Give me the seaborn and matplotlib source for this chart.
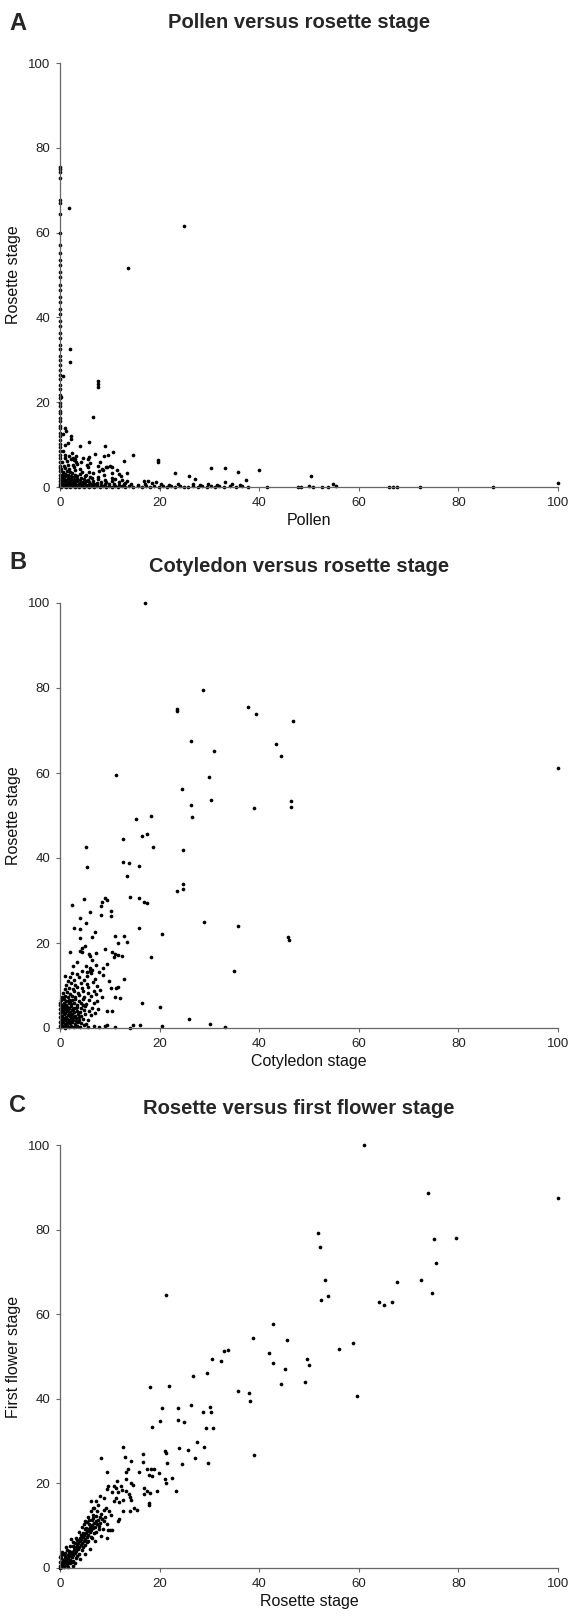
import matplotlib
matplotlib.use("Agg")
import matplotlib.pyplot as plt
import seaborn as sns
import pandas as pd

# ---------------- data ----------------
titles = ["Pollen versus rosette stage", "Cotyledon versus rosette stage", "Rosette versus first flower stage"]
panel_letters = ["A", "B", "C"]
x_labels = ["Pollen", "Cotyledon stage", "Rosette stage"]
y_labels = ["Rosette stage", "Rosette stage", "First flower stage"]
ticks = [0, 20, 40, 60, 80, 100]

# Panel A: points on the y axis (pollen = 0)
a_axis_y = [0.3, 0.8, 1.5, 2.2, 2.8, 3.7, 4.4, 5.0, 5.9, 6.9, 7.6, 8.5, 9.5, 10.2, 11.1, 12.1, 12.8,
            13.9, 14.5, 15.6, 16.3, 17.4, 18.0, 19.1, 19.8, 20.9, 21.8, 23.1, 24.1, 25.4, 26.4, 27.7,
            28.7, 30.0, 30.9, 32.5, 33.6, 35.2, 36.3, 38.0, 39.1, 40.7, 41.9, 43.6, 44.9, 46.4, 47.7,
            49.5, 50.8, 52.4, 53.5, 55.2, 57.1, 60.0, 64.5, 67.0, 67.8, 72.8, 74.4, 75.1, 75.5]
a_points = [
    (1.9, 65.7), (24.9, 61.6), (13.7, 51.7), (2.1, 32.5), (2.1, 29.4), (0.6, 26.1), (7.6, 24.9),
    (7.6, 24.2), (7.6, 23.6), (6.6, 16.6), (0.3, 21.2), (1.0, 14.0), (1.3, 13.2), (0.6, 12.6),
    (2.3, 12.0), (2.3, 11.4), (5.9, 10.7), (4.1, 9.7), (9.1, 9.6), (1.0, 10.0), (1.6, 10.4),
    (7.0, 7.8), (10.7, 8.2), (9.7, 7.6), (14.7, 7.5), (12.8, 6.2), (19.7, 6.3), (19.7, 5.9),
    (30.4, 4.4), (33.2, 4.4), (35.8, 3.5), (39.9, 4.1), (23.1, 3.3), (25.9, 2.6), (27.2, 2.0),
    (50.4, 2.6), (100, 1.0), (37.3, 1.6), (33.2, 1.2), (54.8, 0.8), (41.6, 0.1), (47.7, 0.1),
    (48.4, 0.1), (50.1, 0.2), (50.9, 0.1), (52.6, 0.1), (53.9, 0.1), (55.5, 0.2), (66.0, 0.1),
    (66.9, 0.1), (67.7, 0.1), (72.3, 0.1), (87.0, 0.1),
    (0.3, 0.1), (0.8, 0.2), (1.2, 0.1), (1.7, 0.3), (2.1, 0.1), (2.6, 0.2), (3.0, 0.1), (3.5, 0.3),
    (3.9, 0.1), (4.4, 0.2), (4.9, 0.1), (5.4, 0.3), (5.9, 0.1), (6.4, 0.2), (6.9, 0.1), (7.5, 0.3),
    (8.0, 0.1), (8.6, 0.2), (9.2, 0.1), (9.8, 0.3), (10.4, 0.1), (11.0, 0.2), (11.7, 0.1),
    (12.4, 0.3), (13.1, 0.1), (13.9, 0.2), (14.7, 0.1), (15.6, 0.2), (16.4, 0.1), (17.2, 0.3),
    (18.0, 0.1), (18.9, 0.2), (19.8, 0.1), (20.6, 0.2), (21.5, 0.1), (22.3, 0.3), (23.1, 0.1),
    (24.0, 0.2), (24.9, 0.1), (25.8, 0.1), (26.8, 0.2), (27.7, 0.1), (28.6, 0.3), (29.5, 0.1),
    (30.3, 0.2), (31.2, 0.1), (32.0, 0.2), (33.0, 0.1), (34.2, 0.2), (35.4, 0.1), (36.6, 0.2),
    (37.8, 0.1),
    (0.5, 0.6), (1.0, 0.7), (1.5, 0.5), (2.0, 0.8), (2.5, 0.6), (3.0, 0.7), (3.4, 0.5), (3.9, 0.8),
    (4.4, 0.6), (5.0, 0.7), (5.6, 0.5), (6.2, 0.8), (6.8, 0.6), (7.5, 0.7), (8.2, 0.5), (9.0, 0.8),
    (9.9, 0.6), (10.8, 0.7), (11.8, 0.5), (12.9, 0.8), (14.2, 0.6), (15.6, 0.5), (17.0, 0.7),
    (18.4, 1.0), (20.2, 0.6), (21.8, 0.5), (23.6, 0.7), (26.8, 0.6), (28.2, 0.5), (29.7, 0.6),
    (31.6, 0.5), (34.6, 0.6), (36.2, 0.4),
    (0.4, 1.1), (0.9, 1.3), (1.4, 1.0), (1.9, 1.2), (2.4, 1.4), (2.9, 1.1), (3.4, 1.3), (4.0, 1.0),
    (4.6, 1.2), (5.2, 1.4), (5.9, 1.1), (6.6, 1.3), (7.4, 1.0), (8.3, 1.2), (9.3, 1.1), (10.5, 1.3),
    (11.8, 1.2), (13.0, 1.0), (16.8, 1.4), (17.6, 1.5), (19.2, 1.1),
    (0.3, 1.7), (0.8, 1.9), (1.3, 1.6), (1.8, 2.0), (2.3, 1.8), (2.9, 1.6), (3.5, 2.0), (4.1, 1.7),
    (4.8, 1.9), (5.6, 1.7), (6.5, 2.1), (7.7, 1.8), (9.0, 1.6), (11.0, 1.9), (12.4, 1.7), (13.5, 1.5),
    (0.5, 2.3), (1.1, 2.5), (1.6, 2.2), (2.2, 2.6), (2.8, 2.3), (3.5, 2.5), (4.3, 2.2), (5.1, 2.6),
    (6.1, 2.4), (7.6, 2.3), (10.4, 2.2), (12.2, 2.5),
    (0.4, 2.9), (1.0, 3.1), (1.7, 2.8), (2.4, 3.2), (3.1, 2.9), (4.0, 3.1), (5.3, 2.8), (6.7, 3.2),
    (8.9, 2.9), (11.9, 3.1),
    (0.6, 3.6), (1.4, 3.8), (2.1, 3.5), (3.0, 3.9), (4.4, 3.6), (5.9, 3.5), (7.8, 3.7), (10.4, 3.4),
    (13.4, 3.2),
    (0.3, 4.3), (1.0, 4.5), (1.9, 4.2), (2.8, 4.6), (4.0, 4.3), (5.6, 4.7), (8.4, 4.3), (9.4, 4.6),
    (11.4, 4.0),
    (0.8, 5.0), (1.7, 5.3), (2.6, 5.1), (3.5, 5.5), (5.4, 5.2), (7.6, 5.0), (10.0, 5.0), (10.5, 4.6),
    (0.5, 5.8), (1.5, 6.1), (2.3, 6.6), (2.9, 6.3), (3.3, 5.9), (4.2, 6.0), (5.6, 6.5), (6.0, 5.7),
    (1.1, 6.9), (1.9, 7.2), (2.6, 6.9), (3.0, 6.6), (4.6, 6.8), (1.0, 7.6), (2.4, 8.0), (0.7, 8.6),
    (3.3, 7.4), (5.8, 7.0), (8.8, 7.2), (9.2, 4.8), (8.0, 6.0), (8.6, 4.0),
]

# Panel B: cotyledon (x) vs rosette (y)
b_points = [
    (17.0, 100), (28.7, 79.6), (23.4, 75.0), (23.4, 74.7), (37.7, 75.5), (39.4, 73.9), (46.7, 72.3),
    (26.3, 67.6), (31.0, 65.2), (43.4, 66.8), (44.3, 63.9), (11.2, 59.5), (29.9, 59.1), (100, 61.1),
    (24.4, 56.2), (30.3, 53.7), (26.3, 52.5), (46.3, 53.3), (46.3, 52.1), (39.0, 51.8), (26.5, 49.6),
    (18.2, 49.8), (15.2, 49.1), (12.6, 44.4), (16.5, 45.1), (17.4, 45.6), (18.7, 42.6), (5.2, 42.7),
    (24.6, 41.9), (5.5, 38.0), (12.7, 39.1), (13.9, 38.8), (15.9, 38.2), (13.5, 35.8), (24.7, 33.8),
    (24.7, 32.8), (23.4, 32.3), (14.0, 30.8), (15.8, 30.6), (16.8, 29.6), (17.5, 29.4), (9.0, 30.7),
    (9.5, 30.2), (4.9, 30.3), (2.5, 28.9), (8.4, 29.7), (8.2, 28.6), (10.3, 27.5), (10.3, 26.4),
    (8.3, 26.7), (6.1, 27.4), (4.0, 25.8), (5.2, 24.6), (2.8, 23.5), (4.1, 23.4), (7.1, 22.5),
    (15.8, 23.6), (28.9, 25.0), (35.8, 23.9), (20.4, 22.1), (45.7, 21.4), (45.9, 20.7), (11.1, 21.6),
    (12.9, 21.6), (4.1, 21.2), (6.4, 21.3), (13.5, 20.3), (11.7, 20.0), (5.0, 19.4), (4.5, 18.9),
    (9.0, 18.5), (2.1, 17.8), (4.0, 18.1), (4.4, 17.9), (5.8, 17.4), (7.3, 17.7), (10.4, 17.9),
    (11.0, 17.4), (11.7, 17.2), (12.4, 17.0), (10.9, 16.8), (18.3, 16.7), (6.1, 16.9), (6.5, 15.9),
    (3.4, 15.6), (2.7, 14.7), (9.5, 15.0), (8.6, 14.2), (6.0, 14.1), (6.0, 13.5), (6.5, 13.7),
    (5.5, 13.2), (6.3, 13.0), (5.4, 12.2), (12.9, 11.5), (35.0, 13.5), (1.1, 12.3), (9.9, 11.0),
    (10.3, 9.5), (11.3, 9.5), (11.7, 9.6), (16.4, 6.0), (11.0, 7.2), (12.1, 7.0), (9.4, 4.0),
    (10.4, 4.1), (20.0, 5.0), (26.0, 2.2), (30.2, 0.9), (33.1, 0.2), (20.5, 0.4), (16.0, 0.7),
    (14.7, 0.7), (14.0, 0.1), (11.0, 0.2), (9.0, 0.5), (9.4, 0.8), (7.8, 0.3), (6.8, 0.5), (5.7, 0.2),
    (0.2, 0.2), (0.6, 0.5), (1.0, 0.1), (1.4, 0.6), (1.8, 0.3), (2.3, 0.5), (2.8, 0.2), (3.4, 0.4),
    (4.1, 0.3), (4.8, 0.6),
    (0.3, 1.0), (0.7, 1.4), (1.1, 0.9), (1.5, 1.3), (2.0, 1.1), (2.5, 1.5), (3.0, 1.0), (3.6, 1.4),
    (4.3, 1.2), (5.2, 1.0),
    (0.2, 1.9), (0.6, 2.3), (1.0, 1.8), (1.4, 2.2), (1.8, 1.9), (2.2, 2.4), (2.7, 2.0), (3.2, 2.3),
    (3.8, 1.9), (4.6, 2.2), (5.6, 2.0),
    (0.4, 2.8), (0.8, 3.2), (1.2, 2.7), (1.6, 3.1), (2.0, 2.9), (2.5, 3.3), (3.0, 2.8), (3.6, 3.2),
    (4.3, 2.9), (5.0, 3.3), (6.2, 3.0),
    (0.3, 3.7), (0.7, 4.1), (1.1, 3.6), (1.5, 4.0), (2.0, 3.8), (2.4, 4.2), (2.9, 3.7), (3.5, 4.1),
    (4.1, 3.8), (4.9, 4.2), (5.8, 3.9), (7.0, 3.6),
    (0.2, 4.6), (0.6, 5.0), (1.0, 4.5), (1.4, 4.9), (1.9, 4.7), (2.3, 5.1), (2.9, 4.6), (3.5, 5.0),
    (4.2, 4.7), (5.1, 5.1), (6.4, 4.8), (7.6, 4.5),
    (0.4, 5.5), (0.9, 5.9), (1.3, 5.4), (1.8, 5.8), (2.3, 5.6), (2.9, 6.0), (3.5, 5.5), (4.3, 5.9),
    (5.3, 5.6), (6.8, 5.8),
    (0.3, 6.5), (0.8, 6.8), (1.3, 6.3), (1.8, 6.7), (2.4, 6.5), (3.1, 6.9), (3.8, 6.4), (4.7, 6.8),
    (5.9, 6.6), (7.4, 6.3), (8.4, 7.3),
    (0.5, 7.3), (1.1, 7.6), (1.7, 7.2), (2.4, 7.6), (3.1, 7.4), (3.9, 7.8), (4.8, 7.3), (6.2, 7.6),
    (7.2, 8.0),
    (0.7, 8.2), (1.4, 8.5), (2.1, 8.1), (2.9, 8.6), (3.7, 8.3), (4.6, 8.7), (5.6, 8.2), (6.8, 8.6),
    (1.0, 9.1), (1.8, 9.5), (2.6, 9.2), (3.5, 9.6), (4.5, 9.3), (5.7, 9.7), (7.5, 9.8), (8.0, 9.0),
    (1.3, 10.2), (2.2, 10.5), (3.1, 10.1), (4.2, 10.6), (5.5, 10.3), (1.6, 11.1), (2.9, 11.4),
    (3.9, 12.0), (4.8, 11.3), (2.0, 11.9), (3.4, 12.7), (4.4, 13.4), (2.4, 13.0), (7.0, 11.6),
    (6.7, 10.8), (8.6, 12.5), (7.8, 13.1), (7.2, 14.8), (5.2, 14.6),
    (0.0, 0.5), (0.0, 1.5), (0.0, 2.5), (0.0, 3.5), (0.0, 4.5), (0.0, 5.5), (0.1, 6.0),
    (0.5, 1.6), (1.2, 2.4), (0.9, 3.5), (1.7, 4.4), (0.4, 4.2), (2.6, 4.4), (1.3, 0.4), (2.1, 1.6),
    (3.3, 1.7), (2.6, 2.6), (1.9, 3.4), (3.9, 2.5), (3.2, 4.6), (4.6, 5.4), (2.0, 6.2), (1.1, 5.2),
]

# Panel C: rosette (x) vs first flower (y)
c_points = [
    (61.0, 100), (73.9, 88.7), (100, 87.4), (51.8, 79.3), (52.2, 75.8), (75.1, 77.8), (79.6, 78.1),
    (75.5, 72.2), (53.3, 68.0), (67.6, 67.7), (72.4, 68.0), (74.6, 65.1), (21.3, 64.6), (52.4, 63.3),
    (53.9, 64.3), (64.0, 62.8), (65.1, 62.1), (66.7, 62.8), (42.8, 57.6), (38.7, 54.4), (45.5, 53.9),
    (58.9, 53.2), (56.1, 51.7), (33.8, 51.6), (32.9, 51.2), (42.0, 50.9), (30.6, 49.4), (32.3, 49.0),
    (49.6, 49.4), (49.9, 48.0), (42.8, 48.5), (45.2, 47.0), (29.6, 46.0), (26.7, 45.5), (44.3, 43.5),
    (49.1, 44.0), (18.0, 42.8), (21.9, 43.1), (35.8, 41.8), (37.9, 41.4), (38.2, 39.4), (59.6, 40.6),
    (20.5, 37.8), (23.6, 37.8), (26.3, 38.6), (30.2, 38.1), (30.3, 36.8), (28.7, 36.8), (20.1, 34.7),
    (23.7, 35.0), (24.9, 34.6), (18.5, 33.4), (29.4, 33.2), (30.7, 33.2), (27.5, 29.8), (39.0, 26.6),
    (12.6, 28.7), (28.9, 28.6), (21.1, 27.7), (21.3, 27.3), (23.8, 28.3), (25.7, 28.0), (13.0, 26.3),
    (8.2, 26.1), (16.7, 26.9), (14.2, 25.4), (16.7, 25.0), (27.2, 25.9), (21.5, 24.9), (24.4, 24.7),
    (29.8, 24.9), (13.6, 23.5), (17.5, 23.5), (18.3, 23.5), (18.8, 23.4), (9.4, 22.8), (13.3, 22.6),
    (15.8, 22.8), (19.8, 22.4), (17.9, 22.0), (18.4, 21.7), (21.1, 21.0), (22.4, 21.2), (21.2, 20.1),
    (11.4, 20.5), (14.3, 20.2), (14.6, 19.6), (13.3, 21.0), (10.8, 19.4), (9.6, 19.4), (9.5, 18.6),
    (11.2, 18.9), (12.3, 19.3), (12.5, 18.5), (16.8, 18.9), (17.4, 18.2), (18.1, 17.8), (16.8, 17.5),
    (19.5, 18.3), (23.2, 18.1), (8.1, 17.0), (8.8, 16.5), (10.4, 17.9), (11.7, 18.0), (13.2, 18.1),
    (13.8, 17.5), (14.1, 16.7), (14.2, 16.1), (12.6, 16.1), (11.9, 15.7), (10.9, 15.8), (11.3, 16.5),
    (7.2, 15.9), (6.3, 15.8), (6.6, 14.2), (17.8, 15.4), (17.8, 14.8), (14.8, 14.3), (15.4, 13.6),
    (14.0, 13.5), (12.7, 13.4), (9.2, 14.2), (9.9, 13.4), (10.2, 12.5), (11.8, 11.7), (11.6, 11.0),
    (9.6, 9.0), (10.1, 8.9), (10.5, 9.1), (9.5, 7.2),
    (0.1, 0.1), (0.3, 0.5), (0.5, 0.2), (0.7, 0.9), (0.9, 0.5), (1.0, 1.4), (1.2, 0.8), (1.3, 1.9),
    (1.5, 1.2), (1.6, 2.4), (1.8, 1.6), (1.9, 2.9), (2.1, 2.0), (2.2, 3.3), (2.4, 2.6), (2.5, 3.8),
    (2.7, 3.0), (2.8, 4.3), (3.0, 3.5), (3.1, 4.8), (3.3, 4.0), (3.4, 5.3), (3.6, 4.5), (3.7, 5.8),
    (3.9, 5.0), (4.0, 6.3), (4.2, 5.4), (4.3, 6.8), (4.5, 5.9), (4.6, 7.3), (4.8, 6.4), (4.9, 7.8),
    (5.1, 6.9), (5.2, 8.3), (5.4, 7.4), (5.5, 8.7), (5.7, 7.9), (5.8, 9.2), (6.0, 8.4), (6.1, 9.7),
    (6.3, 8.9), (6.4, 10.2), (6.6, 9.4), (6.8, 10.6), (7.0, 9.8), (7.2, 11.0), (7.4, 10.3),
    (7.7, 11.3), (8.0, 10.7), (8.4, 11.6), (8.8, 11.0),
    (0.2, 0.8), (0.4, 1.3), (0.6, 1.8), (0.8, 0.3), (1.1, 2.3), (1.4, 0.6), (1.7, 3.0), (2.0, 1.1),
    (2.3, 3.9), (2.6, 1.7), (2.9, 4.9), (3.2, 2.4), (3.5, 5.6), (3.8, 3.2), (4.1, 7.0), (4.4, 4.2),
    (4.7, 8.2), (5.0, 5.4), (5.3, 9.4), (5.6, 6.4), (5.9, 10.5), (6.2, 7.3), (6.5, 11.3), (6.9, 8.3),
    (7.3, 12.2), (7.8, 9.2), (8.3, 12.8), (0.3, 2.4), (0.6, 3.2), (1.0, 3.6), (1.5, 4.2), (2.0, 5.2),
    (2.6, 6.1), (3.2, 7.2), (3.8, 8.4), (4.4, 9.6), (5.0, 11.0), (5.6, 12.1), (6.2, 13.5),
    (6.8, 14.2), (3.0, 1.2), (4.0, 2.1), (5.0, 3.3), (6.0, 4.4), (7.0, 6.3), (8.2, 7.5), (0.5, 3.9),
    (0.2, 3.1), (1.2, 5.0), (2.2, 6.8), (8.6, 9.3), (9.4, 10.4), (7.6, 14.8), (2.6, 0.4), (1.6, 0.2),
    (0.0, 0.4), (0.0, 1.5), (0.0, 2.7),
    (1.9, 4.1), (2.7, 5.2), (3.5, 6.6), (4.3, 7.9), (5.1, 9.3), (5.9, 11.4), (6.6, 12.5), (7.5, 13.4),
    (2.4, 1.4), (3.4, 2.9), (4.6, 4.9), (5.4, 6.1), (6.4, 7.0), (7.3, 8.6), (8.0, 12.1), (8.9, 13.6),
    (1.1, 2.9), (1.8, 3.5), (3.0, 6.0), (4.8, 10.4), (5.4, 10.9), (6.7, 11.9), (7.9, 9.9), (9.1, 12.0),
]

# ---------------- build tables ----------------
df_a = pd.DataFrame([(0.0, v) for v in a_axis_y] + a_points, columns=["x", "y"])
df_b = pd.DataFrame(b_points, columns=["x", "y"])
df_c = pd.DataFrame(c_points, columns=["x", "y"])
frames = [df_a, df_b, df_c]

# ---------------- style ----------------
sns.set_style("ticks")
plt.rcParams["font.family"] = ["Liberation Sans", "DejaVu Sans"]

W, H = 575, 1616
fig = plt.figure(figsize=(W / 100, H / 100), dpi=100)

# axes boxes in pixels: (top, bottom)
boxes = [(63, 487), (603, 1028), (1145, 1568)]
left_px, right_px = 60, 558
title_y = [23, 566, 1109]
letter_y = [23, 563, 1106]

spine_col = "#666666"
for i, (df, (top, bot)) in enumerate(zip(frames, boxes)):
    ax = fig.add_axes([left_px / W, 1 - bot / H, (right_px - left_px) / W, (bot - top) / H])
    sns.scatterplot(data=df, x="x", y="y", ax=ax, s=7, color="black",
                    linewidth=0, clip_on=False, legend=False)
    ax.set_xlim(0, 100)
    ax.set_ylim(0, 100)
    ax.set_xticks(ticks)
    ax.set_yticks(ticks)
    for s in ["top", "right"]:
        ax.spines[s].set_visible(False)
    for s in ["left", "bottom"]:
        ax.spines[s].set_color(spine_col)
        ax.spines[s].set_linewidth(0.9)
    ax.tick_params(axis="both", direction="out", length=3, width=0.8, color=spine_col,
                   labelsize=9.5, labelcolor="#222222", pad=4)
    ax.set_xlabel(x_labels[i], fontsize=11.5, labelpad=3, color="#111111")
    ax.set_ylabel(y_labels[i], fontsize=11.5, labelpad=5, color="#111111")
    ax.set_facecolor("white")
    fig.text(299 / W, 1 - title_y[i] / H, titles[i], ha="center", va="center",
             fontsize=14.5, fontweight="bold")
    fig.text(17.5 / W, 1 - letter_y[i] / H, panel_letters[i], ha="center", va="center",
             fontsize=17, fontweight="bold")

fig.savefig("out.png", dpi=100, facecolor="white")
